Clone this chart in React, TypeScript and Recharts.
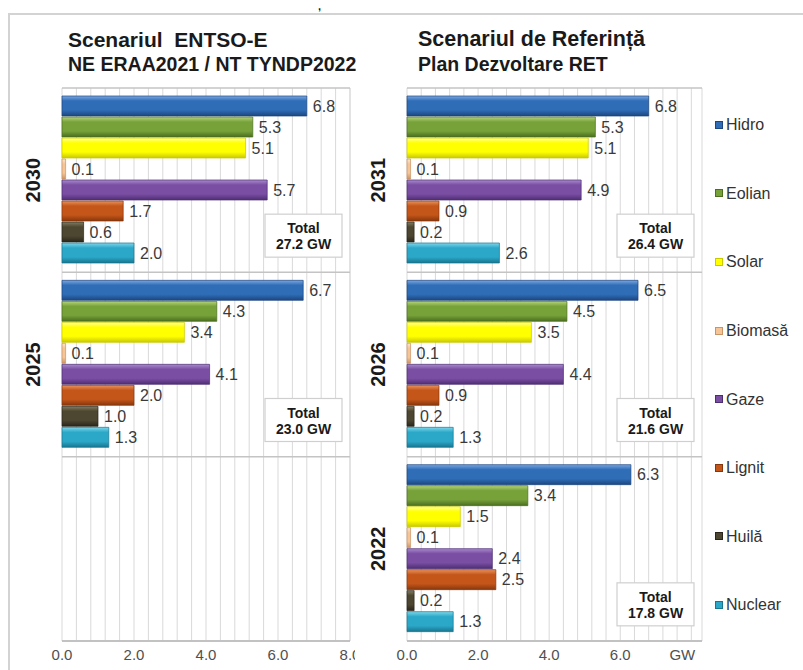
import React from 'react';
import { BarChart, Bar, XAxis, YAxis, CartesianGrid, LabelList, ReferenceDot } from 'recharts';

// ---------- DATA ----------
const seriesNames = ['Hidro', 'Eolian', 'Solar', 'Biomasă', 'Gaze', 'Lignit', 'Huilă', 'Nuclear'];
const seriesKeys = ['hidro', 'eolian', 'solar', 'biomasa', 'gaze', 'lignit', 'huila', 'nuclear'];

// Left panel: Scenariul ENTSO-E
const leftYears = ['2030', '2025', ''];
const leftHidro = [6.8, 6.7, null];
const leftEolian = [5.3, 4.3, null];
const leftSolar = [5.1, 3.4, null];
const leftBiomasa = [0.1, 0.1, null];
const leftGaze = [5.7, 4.1, null];
const leftLignit = [1.7, 2.0, null];
const leftHuila = [0.6, 1.0, null];
const leftNuclear = [2.0, 1.3, null];
const leftTotals = [27.2, 23.0, null];

// Right panel: Scenariul de Referință
const rightYears = ['2031', '2026', '2022'];
const rightHidro = [6.8, 6.5, 6.3];
const rightEolian = [5.3, 4.5, 3.4];
const rightSolar = [5.1, 3.5, 1.5];
const rightBiomasa = [0.1, 0.1, 0.1];
const rightGaze = [4.9, 4.4, 2.4];
const rightLignit = [0.9, 0.9, 2.5];
const rightHuila = [0.2, 0.2, 0.2];
const rightNuclear = [2.6, 1.3, 1.3];
const rightTotals = [26.4, 21.6, 17.8];

const xTicks = [0, 2, 4, 6, 8];
const gridStep = 0.4;

// ---------- STYLE ----------
const FONT = "'Liberation Sans', Arial, sans-serif";
const seriesColors = [
  { light: '#7aa6e0', base: '#2f6db7', dark: '#1c4680' },
  { light: '#b4d47a', base: '#77a23a', dark: '#4b6e1f' },
  { light: '#ffff9a', base: '#ffff00', dark: '#c9c900' },
  { light: '#fde6cf', base: '#f5c598', dark: '#c99466' },
  { light: '#a98acd', base: '#7a4ea3', dark: '#4e2e73' },
  { light: '#ea925c', base: '#c4561a', dark: '#87370b' },
  { light: '#857c5e', base: '#4d4631', dark: '#29251a' },
  { light: '#7fd6ea', base: '#2ba8c8', dark: '#18768f' },
];

const buildRows = (years: string[], cols: (number | null)[][]) =>
  years.map((year, i) => {
    const row: any = { year };
    seriesKeys.forEach((k, si) => {
      row[k] = cols[si][i];
    });
    return row;
  });

const leftData = buildRows(leftYears, [leftHidro, leftEolian, leftSolar, leftBiomasa, leftGaze, leftLignit, leftHuila, leftNuclear]);
const rightData = buildRows(rightYears, [rightHidro, rightEolian, rightSolar, rightBiomasa, rightGaze, rightLignit, rightHuila, rightNuclear]);

const fmt = (v: any) => (v == null || v === '' ? '' : Number(v).toFixed(1));

const Gradients = ({ prefix }: { prefix: string }) => (
  <defs>
    {seriesColors.map((c, i) => (
      <linearGradient key={i} id={`${prefix}-g${i}`} x1="0" y1="0" x2="0" y2="1">
        <stop offset="0%" stopColor={c.light} />
        <stop offset="25%" stopColor={c.base} />
        <stop offset="70%" stopColor={c.base} />
        <stop offset="100%" stopColor={c.dark} />
      </linearGradient>
    ))}
  </defs>
);

const YearTick = (props: any) => {
  const { x, y, payload } = props;
  if (!payload || !payload.value) return null;
  return (
    <g transform={`translate(${x - 21},${y}) rotate(-90)`}>
      <text x={0} y={0} textAnchor="middle" dominantBaseline="central" fontSize={20} fontWeight="bold" fill="#1a1a1a" fontFamily={FONT}>
        {payload.value}
      </text>
    </g>
  );
};

const makeXTick = (gwLast: boolean) => (props: any) => {
  const { x, y, payload } = props;
  const isGW = gwLast && payload.value === 8;
  return (
    <text x={isGW ? x - 9 : x} y={y} dy="0.71em" textAnchor="middle" fontSize={15} fill="#505050" fontFamily={FONT}>
      {isGW ? 'GW' : Number(payload.value).toFixed(1)}
    </text>
  );
};

const TotalBox = ({ cx, cy, value }: any) => {
  const w = 77;
  const h = 43;
  const x = cx - 8 - w;
  const y = cy + 34;
  return (
    <g>
      <rect x={x} y={y} width={w} height={h} fill="#ffffff" stroke="#cfcfcf" strokeWidth={1.2} />
      <text x={x + w / 2} y={y + 14} textAnchor="middle" dominantBaseline="central" fontSize={14} fontWeight="bold" fill="#1a1a1a" fontFamily={FONT}>
        Total
      </text>
      <text x={x + w / 2} y={y + 30} textAnchor="middle" dominantBaseline="central" fontSize={14} fontWeight="bold" fill="#1a1a1a" fontFamily={FONT}>
        {`${value.toFixed(1)} GW`}
      </text>
    </g>
  );
};

const Panel = ({ prefix, data, years, totals, xMax, width, marginRight, yWidth, gwLast }: any) => {
  const gridTicks: number[] = [];
  for (let i = 0; i * gridStep <= 8 + 1e-9; i++) gridTicks.push(Math.round(i * gridStep * 10) / 10);
  return (
    <BarChart
      width={width}
      height={590}
      data={data}
      layout="vertical"
      margin={{ top: 8, right: marginRight, bottom: 0, left: 0 }}
      barCategoryGap={8}
      barGap={1}
    >
      <Gradients prefix={prefix} />
      <CartesianGrid
        horizontal={false}
        stroke="#d9d9d9"
        strokeWidth={1}
        verticalCoordinatesGenerator={({ offset }: any) => {
          const pts = gridTicks.map((v) => offset.left + (v / xMax) * offset.width);
          pts.push(offset.left + offset.width);
          return pts;
        }}
      />
      <CartesianGrid
        vertical={false}
        stroke="#c4c4c4"
        strokeWidth={1.5}
        horizontalCoordinatesGenerator={({ offset }: any) => [0, 1, 2, 3].map((i) => offset.top + (i * offset.height) / 3)}
      />
      <XAxis
        type="number"
        domain={[0, xMax]}
        ticks={xTicks}
        height={29}
        tickLine={false}
        axisLine={{ stroke: '#bdbdbd', strokeWidth: 1.5 }}
        tick={makeXTick(gwLast)}
        interval={0}
      />
      <YAxis type="category" dataKey="year" width={yWidth} tickLine={false} axisLine={false} tick={<YearTick />} interval={0} />
      {seriesKeys.map((k, si) => (
        <Bar
          key={k}
          dataKey={k}
          name={seriesNames[si]}
          fill={`url(#${prefix}-g${si})`}
          stroke={seriesColors[si].dark}
          strokeWidth={0.7}
          isAnimationActive={false}
        >
          <LabelList dataKey={k} position="right" offset={6} formatter={fmt} fill="#3a3a3a" fontSize={16} fontFamily={FONT} />
        </Bar>
      ))}
      {years.map((yr: string, i: number) =>
        totals[i] != null ? (
          <ReferenceDot
            key={`t-${i}`}
            x={xMax}
            y={yr}
            r={1}
            ifOverflow="visible"
            shape={(p: any) => <TotalBox cx={p.cx} cy={p.cy} value={totals[i]} />}
          />
        ) : null
      )}
    </BarChart>
  );
};

const LegendBox = () => (
  <div style={{ position: 'absolute', left: 715, top: 91, fontFamily: FONT }}>
    {seriesNames.map((n, i) => (
      <div key={n} style={{ height: 68.6, display: 'flex', alignItems: 'center' }}>
        <svg width={9} height={9} style={{ marginRight: 2 }}>
          <rect x={0.5} y={0.5} width={7} height={7} fill={seriesColors[i].base} stroke={seriesColors[i].dark} strokeWidth={1} />
        </svg>
        <span style={{ fontSize: 16, color: '#333333' }}>{n}</span>
      </div>
    ))}
  </div>
);

const titleStyle: React.CSSProperties = {
  position: 'absolute',
  fontFamily: FONT,
  fontWeight: 'bold',
  color: '#1a1a1a',
  whiteSpace: 'pre',
  lineHeight: 1,
};

export default function App() {
  return (
    <div style={{ position: 'absolute', left: 0, top: 0, width: 803, height: 670, background: '#ffffff', overflow: 'hidden' }}>
      <div style={{ position: 'absolute', left: 8, top: 13, width: 820, height: 700, borderLeft: '2px solid #d3d3d3', borderTop: '2px solid #d3d3d3' }} />
      <div style={{ ...titleStyle, left: 318, top: 1, fontSize: 11 }}>,</div>
      <div style={{ ...titleStyle, left: 68, top: 29, fontSize: 21 }}>{'Scenariul  ENTSO-E'}</div>
      <div style={{ ...titleStyle, left: 68, top: 55, fontSize: 19.5 }}>NE ERAA2021 / NT TYNDP2022</div>
      <div style={{ ...titleStyle, left: 418, top: 29, fontSize: 21.5 }}>Scenariul de Referință</div>
      <div style={{ ...titleStyle, left: 418, top: 55, fontSize: 19.5 }}>Plan Dezvoltare RET</div>
      <div style={{ position: 'absolute', left: 8, top: 80 }}>
        <Panel prefix="L" data={leftData} years={leftYears} totals={leftTotals} xMax={8} width={352} marginRight={10} yWidth={54} gwLast={false} />
      </div>
      <div style={{ position: 'absolute', left: 355, top: 80, background: '#ffffff' }}>
        <Panel prefix="R" data={rightData} years={rightYears} totals={rightTotals} xMax={8.3} width={448} marginRight={101} yWidth={52} gwLast={true} />
      </div>
      <LegendBox />
    </div>
  );
}
